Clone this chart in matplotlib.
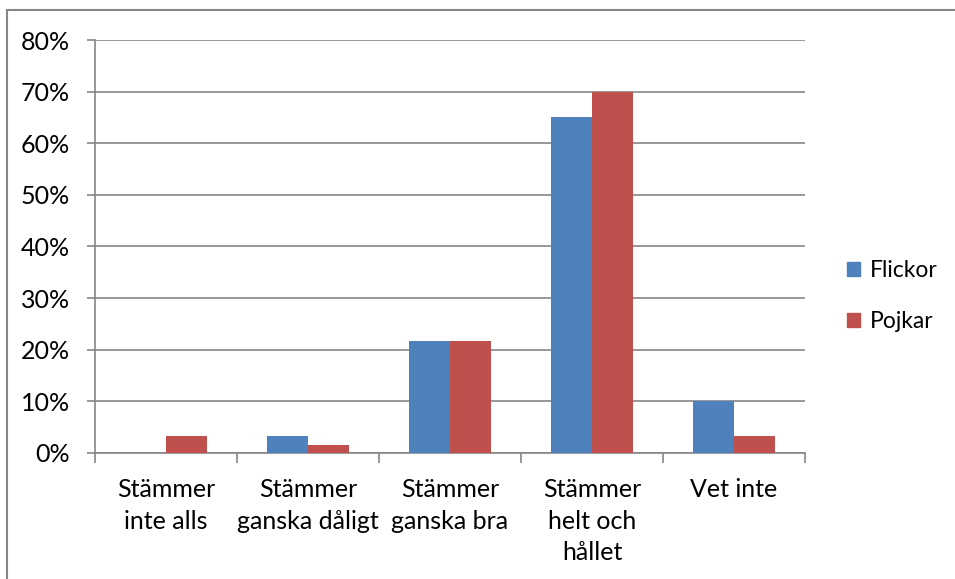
import numpy as np
import matplotlib.pyplot as plt
from matplotlib.lines import Line2D
from matplotlib.ticker import FixedLocator, PercentFormatter

categories = ["Stämmer\ninte alls", "Stämmer\nganska dåligt", "Stämmer\nganska bra",
              "Stämmer\nhelt och\nhållet", "Vet inte"]
flickor = [0.0, 3.2, 21.6, 65.0, 10.0]
pojkar = [3.2, 1.5, 21.6, 70.0, 3.2]
series_names = ["Flickor", "Pojkar"]
colors = ["#4F81BD", "#C0504D"]
y_ticks = [0, 10, 20, 30, 40, 50, 60, 70, 80]

plt.rcParams['font.family'] = ['Lato', 'DejaVu Sans']
W, H = 955, 579
fig = plt.figure(figsize=(W / 100, H / 100), dpi=100)
ax = fig.add_axes([95 / W, 1 - 453 / H, (805 - 95) / W, (453 - 40) / H])

x = np.arange(len(categories))
w = 0.29
ax.bar(x - w / 2, flickor, w, color=colors[0], label=series_names[0], zorder=3)
ax.bar(x + w / 2, pojkar, w, color=colors[1], label=series_names[1], zorder=3)

ax.set_xlim(-0.5, len(categories) - 0.5)
ax.set_ylim(0, 80)
ax.set_yticks(y_ticks)
ax.yaxis.set_major_formatter(PercentFormatter(decimals=0))
ax.grid(axis='y', color='#868686', linewidth=1.2, zorder=0)

grey = '#868686'
for side in ['top', 'right']:
    ax.spines[side].set_visible(False)
for side in ['left', 'bottom']:
    ax.spines[side].set_color(grey)
    ax.spines[side].set_linewidth(1.2)

fs = 18
ax.xaxis.set_major_locator(FixedLocator(np.arange(-0.5, len(categories), 1)))
ax.xaxis.set_major_formatter(plt.NullFormatter())
ax.xaxis.set_minor_locator(FixedLocator(x))
ax.set_xticklabels(categories, minor=True, fontsize=fs, linespacing=1.45, va='top')
ax.tick_params(axis='x', which='major', length=7, color=grey, width=1.2)
ax.tick_params(axis='x', which='minor', length=0, pad=18)
ax.tick_params(axis='y', length=6, color=grey, width=1.2, labelsize=fs, pad=12)

handles = [plt.Rectangle((0, 0), 1, 1, color=c) for c in colors]
fig.legend(handles, series_names, loc='center left', bbox_to_anchor=(826 / W, 1 - 296 / H),
           frameon=False, fontsize=16.5, handlelength=0.6, handleheight=0.6,
           handletextpad=0.4, labelspacing=1.3)

fig.add_artist(Line2D([7 / W, 7 / W], [0, 1 - 10 / H], color=grey, linewidth=1.5))
fig.add_artist(Line2D([7 / W, 1], [1 - 10 / H, 1 - 10 / H], color=grey, linewidth=1.5))

fig.savefig("out.png", dpi=100)
plt.close(fig)
